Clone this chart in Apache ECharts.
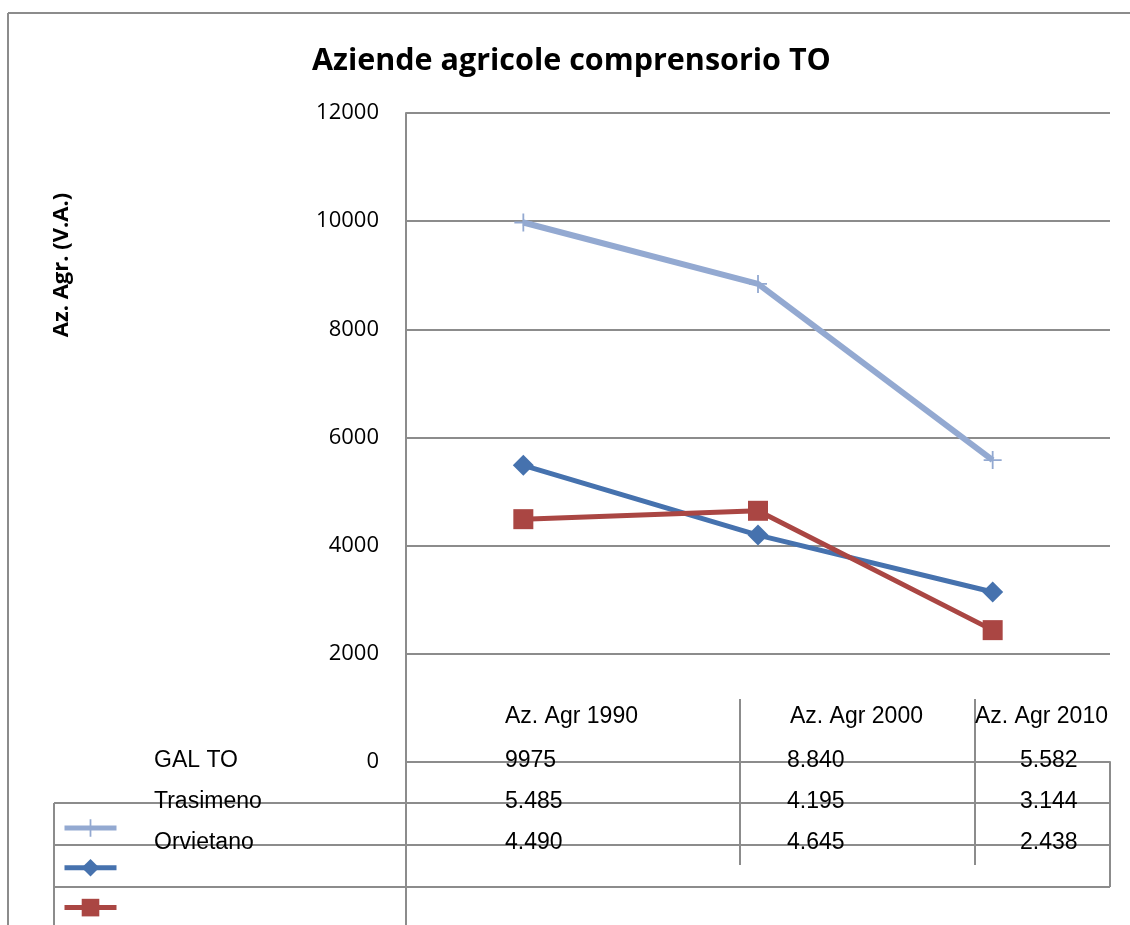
<!DOCTYPE html>
<html>
<head>
<meta charset="utf-8">
<script src="https://cdn.jsdelivr.net/npm/echarts@6/dist/echarts.min.js"></script>
<style>
html,body{margin:0;padding:0;background:#fff;}
#chart{width:1130px;height:925px;}
</style>
</head>
<body>
<div id="chart"></div>
<script>
// ---- data ----
const categories = ['Az. Agr 1990', 'Az. Agr 2000', 'Az. Agr 2010'];
const seriesNames = ['GAL TO', 'Trasimeno', 'Orvietano'];
const galTO = [9975, 8840, 5582];
const trasimeno = [5485, 4195, 3144];
const orvietano = [4490, 4645, 2438];
const tableGalTO = ['9975', '8.840', '5.582'];
const tableTrasimeno = ['5.485', '4.195', '3.144'];
const tableOrvietano = ['4.490', '4.645', '2.438'];
const yMin = 0, yMax = 12000, yStep = 2000;
const titleText = 'Aziende agricole comprensorio TO';
const yName = 'Az. Agr. (V.A.)';

// ---- styles ----
const colors = ['#93A9D1', '#4672AE', '#AA4643'];
const gridCol = '#8C8C8C';
const plusPath = 'path://M4.5,0 H5.5 V4.5 H10 V5.5 H5.5 V10 H4.5 V5.5 H0 V4.5 H4.5 Z';
const tableFont = '"Liberation Sans", Arial, sans-serif';

const chart = echarts.init(document.getElementById('chart'));

function line(x1, y1, x2, y2, w) {
  return { type: 'line', silent: true, z: 1,
    shape: { x1, y1, x2, y2 },
    style: { stroke: gridCol, lineWidth: w || 2 } };
}
function txt(x, y, text, opts) {
  return { type: 'text', silent: true, x, y, z: 5,
    style: Object.assign({ text, fill: '#000', font: '23px ' + tableFont,
      align: 'left', verticalAlign: 'middle' }, opts || {}) };
}

const headerX = [505, 790, 975];
const valueX = [505, 787, 1020];
const rowY = [761, 802, 843];
const rows = [tableGalTO, tableTrasimeno, tableOrvietano];

const graphics = [
  // outer frame
  line(8, 13, 8, 925, 2),
  line(8, 13, 1130, 13, 2),
  // axis extension + table frame
  line(406, 762, 406, 925, 2),
  line(54, 803, 1110, 803, 2),
  line(54, 845, 1110, 845, 2),
  line(54, 887, 1110, 887, 2),
  line(54, 803, 54, 925, 2),
  line(1110, 762, 1110, 887, 2),
  line(740, 699, 740, 865, 2),
  line(975, 699, 975, 865, 2),
  // y axis name
  { type: 'text', silent: true, x: 62, y: 265, rotation: Math.PI / 2,
    style: { text: yName, fill: '#000', font: 'bold 22px "Open Sans", sans-serif',
      align: 'center', verticalAlign: 'middle' } }
];
categories.forEach((c, i) => graphics.push(txt(headerX[i], 717, c)));
seriesNames.forEach((n, r) => {
  graphics.push(txt(154, rowY[r], n));
  rows[r].forEach((v, i) => graphics.push(txt(valueX[i], rowY[r], v)));
});

const symbols = [plusPath, 'diamond', 'rect'];
const symSizes = [18, 21, 20];
const datas = [galTO, trasimeno, orvietano];

chart.setOption({
  backgroundColor: '#fff',
  animation: false,
  title: {
    text: titleText, left: 307, top: 41,
    textStyle: { fontFamily: '"Open Sans", sans-serif', fontWeight: 'bold', fontSize: 30.5, color: '#000' }
  },
  legend: {
    data: seriesNames, orient: 'vertical', left: 57, top: 812,
    itemWidth: 52, itemHeight: 22, itemGap: 20,
    formatter: () => '', selectedMode: false,
    lineStyle: { width: 5 },
    textStyle: { fontSize: 1 }
  },
  grid: { left: 406, top: 113, width: 704, height: 649, containLabel: false },
  xAxis: {
    type: 'category', data: categories, boundaryGap: true,
    axisLine: { show: true, lineStyle: { color: gridCol, width: 2 } },
    axisTick: { show: false }, axisLabel: { show: false }, splitLine: { show: false }
  },
  yAxis: {
    type: 'value', min: yMin, max: yMax, interval: yStep,
    axisLine: { show: true, lineStyle: { color: gridCol, width: 2 } },
    axisTick: { show: false },
    axisLabel: { margin: 27, color: '#000', fontSize: 22, fontFamily: '"Open Sans", sans-serif',
      formatter: v => String(v) },
    splitLine: { show: true, lineStyle: { color: gridCol, width: 2 } }
  },
  series: seriesNames.map((n, i) => ({
    name: n, type: 'line', data: datas[i],
    symbol: symbols[i], symbolSize: symSizes[i], showSymbol: true,
    lineStyle: { color: colors[i], width: i === 0 ? 6 : 5 },
    itemStyle: { color: colors[i] },
    z: 3 + i
  })),
  graphic: graphics
});
</script>
</body>
</html>
